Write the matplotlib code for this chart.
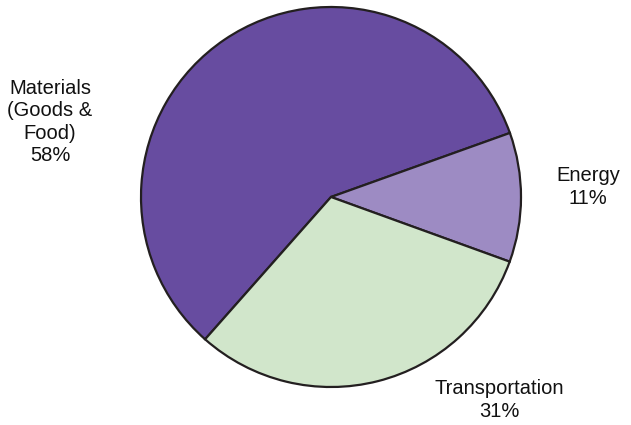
import matplotlib.pyplot as plt

categories = ['Materials\n(Goods &\nFood)', 'Energy', 'Transportation']
shares = [58, 11, 31]
colors = ['#674ca0', '#9d8bc3', '#d1e6cb']

W, H = 631, 425
fig = plt.figure(figsize=(W / 100, H / 100), dpi=100)

# pie centre and radius in pixels
cx, cy, r = 331, 197, 190
lim = 1.02
ax = fig.add_axes([(cx - r * lim) / W, (H - cy - r * lim) / H,
                   2 * r * lim / W, 2 * r * lim / H])
ax.pie(shares, colors=colors, startangle=228.5, counterclock=False,
       wedgeprops={'edgecolor': '#231f20', 'linewidth': 1.6})
ax.set_xlim(-lim, lim)
ax.set_ylim(-lim, lim)
ax.set_aspect('equal')
ax.axis('off')

# labels placed by pixel position
label_pos = [(50, 122), (588, 187), (499, 400)]
for name, val, (x, y) in zip(categories, shares, label_pos):
    fig.text(x / W, 1 - y / H, f'{name}\n{val}%', ha='center', va='center',
             multialignment='center', fontsize=14.5, linespacing=1.24,
             family='Liberation Sans', color='#111111')

fig.savefig('out.png', dpi=100)
